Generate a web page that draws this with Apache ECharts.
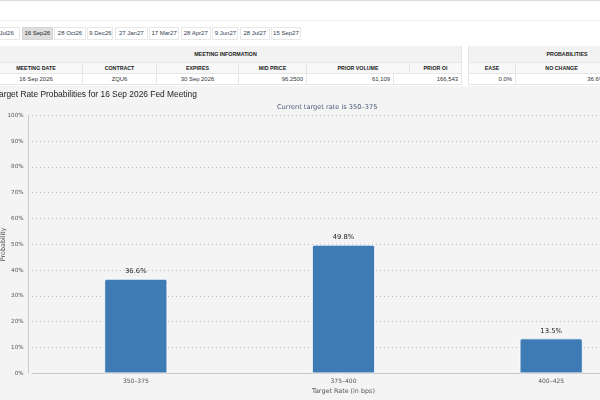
<!DOCTYPE html>
<html>
<head>
<meta charset="utf-8">
<script src="https://cdn.jsdelivr.net/npm/echarts@6/dist/echarts.min.js"></script>
<style>
html,body{margin:0;padding:0;width:600px;height:400px;overflow:hidden;background:#f4f4f4;font-family:"Liberation Sans",Arial,sans-serif}
#top{position:absolute;left:0;top:0;width:600px;height:86px;background:#fff;border-top:1px solid #dcdcdc;box-sizing:border-box}
#rule{position:absolute;left:0;top:19px;width:600px;height:1px;background:#f0f0f0}
.tab{position:absolute;top:26px;height:13px;box-sizing:border-box;border:1px solid #e8e8e8;font-size:6px;line-height:11px;text-align:center;color:#2f3e52;white-space:nowrap}
.tab.on{background:#dedede;border-color:#d4d4d4;color:#222}
.cell{position:absolute;box-sizing:border-box;border-right:1px solid #e6e6e6;border-bottom:1px solid #e6e6e6;white-space:nowrap;overflow:hidden}
.band{background:#f2f2f2;font-weight:bold;font-size:5.3px;color:#222;text-align:center}
.head{background:#f8f8f8;font-weight:bold;font-size:5.3px;color:#222;text-align:center}
.data{background:#fff;font-size:5.9px;color:#333}
#chart{position:absolute;left:0;top:86px;width:660px;height:314px}
</style>
</head>
<body>
<div id="top"><div id="rule"></div></div>
<div id="chart"></div>
<script>
// meeting tabs
var tabLabels = ['9 Jul26','16 Sep26','28 Oct26','9 Dec26','27 Jan27','17 Mar27','28 Apr27','9 Jun27','28 Jul27','15 Sep27'];
var activeTab = '16 Sep26';

// meeting information table
var infoHeaders = ['MEETING DATE','CONTRACT','EXPIRES','MID PRICE','PRIOR VOLUME','PRIOR OI'];
var infoValues = ['16 Sep 2026','ZQU6','30 Sep 2026','96.2500','61,109','166,543'];
var probHeaders = ['EASE','NO CHANGE'];
var probValues = ['0.0%','36.6%'];

// chart data
var chartTitle = 'Target Rate Probabilities for 16 Sep 2026 Fed Meeting';
var subTitle = 'Current target rate is 350\u2013375';
var rateBuckets = ['350\u2013375','375\u2013400','400\u2013425'];
var probabilities = [36.6, 49.8, 13.5];

var topBox = document.getElementById('top');
function box(cls, x, y, w, h, text, align) {
    var d = document.createElement('div');
    d.className = cls;
    d.style.left = x + 'px';
    d.style.top = y + 'px';
    d.style.width = w + 'px';
    d.style.height = h + 'px';
    d.style.lineHeight = (h - 1) + 'px';
    if (align) {
        d.style.textAlign = align;
        d.style.paddingRight = '3px';
    }
    d.textContent = text;
    topBox.appendChild(d);
    return d;
}

var tabEdges = [-12,21.7,54.3,87.3,115,149,180.7,212.3,240,271,302.3];
for (var i = 0; i < tabLabels.length; i++) {
    var t = box('tab' + (tabLabels[i] == activeTab ? ' on' : ''), tabEdges[i], 26, tabEdges[i+1] - tabEdges[i] - 1.5, 13, tabLabels[i]);
    t.style.lineHeight = '11px';
}

var infoCols = [-10,83,157,239,307,410,462];
var infoDataCols = [-10,83,157,239,307,394,462];
box('cell band', -10, 45, 472, 17, 'MEETING INFORMATION');
for (var i = 0; i < infoHeaders.length; i++) {
    box('cell head', infoCols[i], 62, infoCols[i+1] - infoCols[i], 11, infoHeaders[i]);
    var right = i >= 3;
    var c = box('cell data', infoDataCols[i], 73, infoDataCols[i+1] - infoDataCols[i], 11, infoValues[i], right ? 'right' : null);
    if (!right) c.style.textAlign = 'center';
}

var probCols = [468,516,608,700];
var b = box('cell band', 468, 45, 198, 17, 'PROBABILITIES');
b.style.borderLeft = '1px solid #e6e6e6';
for (var i = 0; i < probHeaders.length; i++) {
    var h = box('cell head', probCols[i], 62, probCols[i+1] - probCols[i], 11, probHeaders[i]);
    var c = box('cell data', probCols[i], 73, probCols[i+1] - probCols[i], 11, probValues[i], 'right');
    if (i == 0) { h.style.borderLeft = '1px solid #e6e6e6'; c.style.borderLeft = '1px solid #e6e6e6'; }
}

var myChart = echarts.init(document.getElementById('chart'));
var option = {
    animation: false,
    backgroundColor: '#f4f4f4',
    title: [{
        text: chartTitle,
        left: -5.2,
        top: 4.5,
        padding: 0,
        textStyle: {fontFamily: 'Liberation Sans', fontSize: 8.4, fontWeight: 'normal', color: '#222'}
    }, {
        text: subTitle,
        left: 277,
        top: 17.5,
        padding: 0,
        textStyle: {fontFamily: 'DejaVu Sans', fontSize: 6.6, fontWeight: 'normal', color: '#4b5876'}
    }],
    grid: {
        left: 32,
        right: 5,
        top: 29.3,
        bottom: 26.7,
        containLabel: false,
        outerBoundsMode: 'none'
    },
    xAxis: {
        type: 'category',
        data: rateBuckets,
        name: 'Target Rate (in bps)',
        nameLocation: 'middle',
        nameGap: 15,
        nameMoveOverlap: false,
        nameTextStyle: {fontFamily: 'DejaVu Sans', fontSize: 6.4, color: '#555'},
        axisLine: {lineStyle: {color: '#c8c8c8'}},
        axisTick: {show: false},
        axisLabel: {fontFamily: 'DejaVu Sans', fontSize: 6, color: '#555', margin: 5}
    },
    yAxis: {
        type: 'value',
        min: 0,
        max: 100,
        interval: 10,
        offset: 4,
        name: 'Probability',
        nameLocation: 'middle',
        nameGap: 22,
        nameMoveOverlap: false,
        nameTextStyle: {fontFamily: 'DejaVu Sans', fontSize: 6.4, color: '#555'},
        axisLine: {show: true, lineStyle: {color: '#cccccc'}},
        axisTick: {show: false},
        axisLabel: {formatter: '{value}%', fontFamily: 'DejaVu Sans', fontSize: 5.6, color: '#555', margin: 4.5},
        splitLine: {lineStyle: {type: [1, 3], color: '#bdbdbd'}}
    },
    series: [{
        type: 'bar',
        data: probabilities,
        barWidth: 63,
        itemStyle: {color: '#3e7bb5', borderColor: '#ffffff', borderWidth: 0.8, borderRadius: [2, 2, 0, 0]},
        label: {
            show: true,
            position: 'top',
            distance: 4,
            formatter: function (p) { return p.value.toFixed(1) + '%'; },
            fontFamily: 'DejaVu Sans',
            fontSize: 6.8,
            color: '#222'
        }
    }]
};
myChart.setOption(option);
</script>
</body>
</html>
